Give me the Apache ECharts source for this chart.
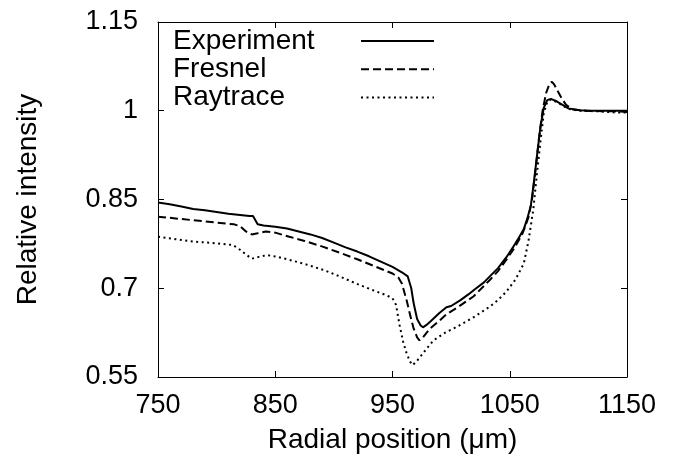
<!DOCTYPE html>
<html><head><meta charset="utf-8">
<script src="https://cdn.jsdelivr.net/npm/echarts@6/dist/echarts.min.js"></script>
<style>html,body{margin:0;padding:0;background:#fff}#c{width:680px;height:462px}</style>
</head><body><div id="c"></div>
<script>
const xTicks = [750, 850, 950, 1050, 1150];
const yTicks = [0.55, 0.7, 0.85, 1, 1.15];

const expX = [750,760,770,780,790,800,810,820,828,831,835,840,850,860,870,880,890,900,910,920,930,940,950,958,963,966,968,971,974,976,979,983,990,996,1000,1008,1015,1020,1028,1033,1040,1047,1053,1058,1062,1065,1068,1070,1073,1076,1079,1082,1085,1090,1095,1100,1110,1120,1130,1140,1150];
const expY = [0.845,0.842,0.838,0.834,0.832,0.829,0.826,0.824,0.822,0.822,0.808,0.806,0.804,0.801,0.796,0.791,0.785,0.777,0.769,0.762,0.754,0.745,0.736,0.727,0.720,0.700,0.675,0.648,0.637,0.634,0.638,0.645,0.658,0.668,0.670,0.680,0.690,0.698,0.710,0.720,0.734,0.752,0.770,0.786,0.800,0.818,0.840,0.870,0.920,0.970,1.005,1.018,1.020,1.016,1.010,1.004,1.001,1.000,1.000,1.000,1.000];

const freX = [750,765,780,800,815,820,825,830,835,842,850,862,875,891,905,920,935,950,955,958,962,965,968,971,973,976,982,990,996,1005,1019,1033,1040,1047,1054,1061,1066,1069,1072,1075,1078,1081,1084,1086,1088,1091,1094,1098,1104,1115,1130,1140,1150];
const freY = [0.821,0.818,0.815,0.811,0.808,0.805,0.796,0.791,0.793,0.796,0.794,0.787,0.780,0.770,0.760,0.749,0.737,0.725,0.718,0.708,0.680,0.655,0.632,0.617,0.612,0.617,0.632,0.645,0.656,0.667,0.686,0.714,0.729,0.748,0.768,0.793,0.820,0.850,0.900,0.955,1.000,1.030,1.046,1.049,1.044,1.033,1.022,1.010,1.002,1.000,0.999,0.999,0.998];

const rayX = [750,765,780,800,814,820,825,830,836,843,852,862,875,891,905,919,933,945,950,953,956,959,962,965,967,970,974,980,985,995,1005,1020,1033,1040,1047,1055,1062,1066,1070,1073,1076,1079,1082,1085,1090,1095,1100,1110,1125,1140,1150];
const rayY = [0.787,0.783,0.779,0.776,0.773,0.765,0.757,0.750,0.753,0.756,0.753,0.748,0.741,0.731,0.720,0.708,0.697,0.688,0.683,0.672,0.638,0.610,0.590,0.576,0.570,0.575,0.585,0.600,0.612,0.625,0.635,0.652,0.669,0.680,0.694,0.715,0.742,0.780,0.832,0.890,0.945,0.996,1.015,1.019,1.015,1.009,1.003,1.000,0.999,0.997,0.997];

const zip = (xs, ys) => xs.map((x, i) => [x, ys[i]]);
const FONT = 'Liberation Sans, Arial, sans-serif';

const chart = echarts.init(document.getElementById('c'), null, {renderer: 'canvas'});
const tickStyle = {show: true, inside: true, length: 6, lineStyle: {color: '#000', width: 1}};
const lineAx = {show: true, lineStyle: {color: '#000', width: 1}};
chart.setOption({
  animation: false,
  backgroundColor: '#fff',
  grid: {left: 158, right: 53, top: 22, bottom: 85, show: false},
  legend: {
    orient: 'vertical', left: 173, top: 27, align: 'right',
    itemWidth: 73, itemHeight: 14, itemGap: 0.3, padding: 0,
    itemStyle: {opacity: 0},
    formatter: '{t|{name}}',
    textStyle: {fontSize: 28, color: '#000', fontFamily: FONT, lineHeight: 28,
      rich: {t: {width: 183, align: 'left', fontSize: 28, fontFamily: FONT, color: '#000', lineHeight: 28}}},
    data: ['Experiment', 'Fresnel', 'Raytrace']
  },
  xAxis: [{
    type: 'value', min: 750, max: 1150, position: 'bottom',
    name: 'Radial position (\u03bcm)', nameLocation: 'middle', nameGap: 49,
    nameTextStyle: {fontSize: 28, color: '#000', fontFamily: FONT},
    axisLine: lineAx, splitLine: {show: false},
    axisTick: Object.assign({customValues: xTicks}, tickStyle),
    axisLabel: {customValues: xTicks, fontSize: 27, color: '#000', fontFamily: FONT, margin: 15,
      formatter: v => String(v)}
  }, {
    type: 'value', min: 750, max: 1150, position: 'top',
    axisLine: lineAx, splitLine: {show: false},
    axisTick: Object.assign({customValues: xTicks}, tickStyle),
    axisLabel: {show: false, customValues: xTicks}
  }],
  yAxis: [{
    type: 'value', min: 0.55, max: 1.15, position: 'left',
    name: 'Relative intensity', nameLocation: 'middle', nameGap: 116,
    nameTextStyle: {fontSize: 28, color: '#000', fontFamily: FONT},
    axisLine: lineAx, splitLine: {show: false},
    axisTick: Object.assign({customValues: yTicks}, tickStyle),
    axisLabel: {customValues: yTicks, fontSize: 27, color: '#000', fontFamily: FONT, margin: 20,
      formatter: v => String(Math.round(v * 100) / 100)}
  }, {
    type: 'value', min: 0.55, max: 1.15, position: 'right',
    axisLine: lineAx, splitLine: {show: false},
    axisTick: Object.assign({customValues: yTicks}, tickStyle),
    axisLabel: {show: false, customValues: yTicks}
  }],
  series: [
    {name: 'Experiment', type: 'line', data: zip(expX, expY), showSymbol: false, symbol: 'none',
      lineStyle: {color: '#000', width: 2, type: 'solid'}, itemStyle: {color: '#000'}},
    {name: 'Fresnel', type: 'line', data: zip(freX, freY), showSymbol: false, symbol: 'none',
      lineStyle: {color: '#000', width: 2, type: [8, 4]}, itemStyle: {color: '#000'}},
    {name: 'Raytrace', type: 'line', data: zip(rayX, rayY), showSymbol: false, symbol: 'none',
      lineStyle: {color: '#000', width: 2, type: [2, 3.5]}, itemStyle: {color: '#000'}}
  ]
});
</script>
</body></html>
